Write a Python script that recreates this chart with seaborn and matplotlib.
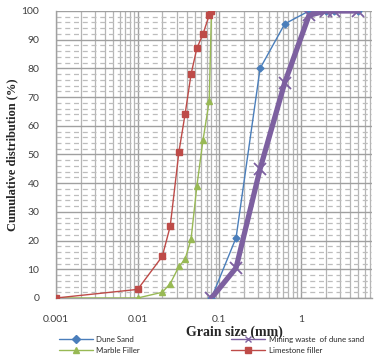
import pandas as pd
import matplotlib
matplotlib.use("Agg")
import matplotlib.pyplot as plt
import seaborn as sns
from matplotlib.ticker import FixedLocator, NullFormatter, MultipleLocator

# Sieve sizes (mm) and cumulative passing (%)
sand_size = [0.08, 0.16, 0.315, 0.63, 1.25, 2, 2.5, 5]
dune_sand = [0, 21, 80, 95.5, 100, 100, 100, 100]
mining_waste = [0, 10.5, 45, 75, 98.5, 100, 100, 100]

filler_size = [0.001, 0.01, 0.02, 0.025, 0.032, 0.038, 0.045, 0.053, 0.063, 0.075, 0.08]
marble_filler = [0, 0, 2, 5, 11, 13.5, 20.5, 39, 55, 68.5, 100]
limestone_filler = [0, 3, 14.5, 25, 51, 64, 78, 87, 92, 98.5, 100]

sns.set_style("white")

fig = plt.figure(figsize=(3.74, 3.58), dpi=100)
ax = fig.add_axes([0.1497, 0.1676, 0.845, 0.8017])

series = [
    ("Dune Sand", sand_size, dune_sand, "#4A7EBB", "D", 3.5, 1.0, 1.0),
    ("Mining waste  of dune sand", sand_size, mining_waste, "#7D60A0", "x", 9, 3.8, 1.3),
    ("Marble Filler", filler_size, marble_filler, "#98B954", "^", 5, 1.0, 1.0),
    ("Limestone filler", filler_size, limestone_filler, "#BE4B48", "s", 5, 1.0, 1.0),
]

for name, xs, ys, col, mk, ms, lw, mew in series:
    df = pd.DataFrame({"size": xs, "pct": ys})
    sns.lineplot(data=df, x="size", y="pct", ax=ax, color=col, marker=mk,
                 markersize=ms, linewidth=lw, markeredgewidth=mew,
                 markeredgecolor=col, sort=False, label=name, zorder=3)

ax.set_xscale("log")
ax.set_xlim(0.001, 7.38)
ax.set_ylim(0, 100)

# grid like the spreadsheet chart
ax.xaxis.set_major_locator(FixedLocator([0.001, 0.01, 0.1, 1]))
minors = [m * 10.0 ** e for e in range(-3, 1) for m in range(2, 10)]
ax.xaxis.set_minor_locator(FixedLocator(minors))
ax.xaxis.set_minor_formatter(NullFormatter())
ax.set_xticklabels(["0.001", "0.01", "0.1", "1"])
ax.yaxis.set_major_locator(MultipleLocator(10))
ax.yaxis.set_minor_locator(MultipleLocator(2))

ax.grid(which="major", axis="both", color="#A0A0A0", linewidth=1.0, zorder=0)
ax.grid(which="minor", axis="x", color="#B5B5B5", linewidth=0.9, zorder=0)
ax.grid(which="minor", axis="y", color="#BDBDBD", linewidth=0.9,
        linestyle=(0, (4, 3)), zorder=0)
ax.set_axisbelow(True)

for s in ["top", "right"]:
    ax.spines[s].set_visible(False)
for s in ["left", "bottom"]:
    ax.spines[s].set_color("#A0A0A0")
    ax.spines[s].set_linewidth(1.0)

ax.tick_params(axis="both", which="both", labelsize=7.5, colors="#A0A0A0",
               labelcolor="#404040", direction="out")
ax.tick_params(axis="x", which="major", length=4, pad=8)
ax.tick_params(axis="x", which="minor", length=3)
ax.tick_params(axis="y", which="major", length=4, pad=8)
ax.tick_params(axis="y", which="minor", length=0)
for lab in ax.get_xticklabels() + ax.get_yticklabels():
    lab.set_fontfamily("Lato")

ax.set_xlabel("Grain size (mm)", fontfamily="Liberation Serif", fontweight="bold",
              fontsize=10, labelpad=0)
ax.xaxis.set_label_coords(0.564, -0.095)
ax.set_ylabel("Cumulative distribution (%)", fontfamily="Liberation Serif",
              fontweight="bold", fontsize=9)
ax.yaxis.set_label_coords(-0.12, 0.5)

# two single-column legends, placed like the original two columns
h, l = ax.get_legend_handles_labels()
leg_kw = dict(loc="upper left", frameon=False, prop={"family": "Lato", "size": 5.7},
              handlelength=4.3, handletextpad=0.4, labelspacing=0.45,
              borderaxespad=0)
leg1 = ax.legend([h[0], h[2]], [l[0], l[2]], bbox_to_anchor=(0.0, -0.122), **leg_kw)
ax.add_artist(leg1)
leg2 = ax.legend([h[1], h[3]], [l[1], l[3]], bbox_to_anchor=(0.545, -0.122), **leg_kw)
for leg in (leg1, leg2):
    for hd in leg.legend_handles:
        hd.set_linewidth(1.0)
        hd.set_markersize(4.5)
        hd.set_markeredgewidth(1.0)

fig.savefig("out.png", dpi=100)
